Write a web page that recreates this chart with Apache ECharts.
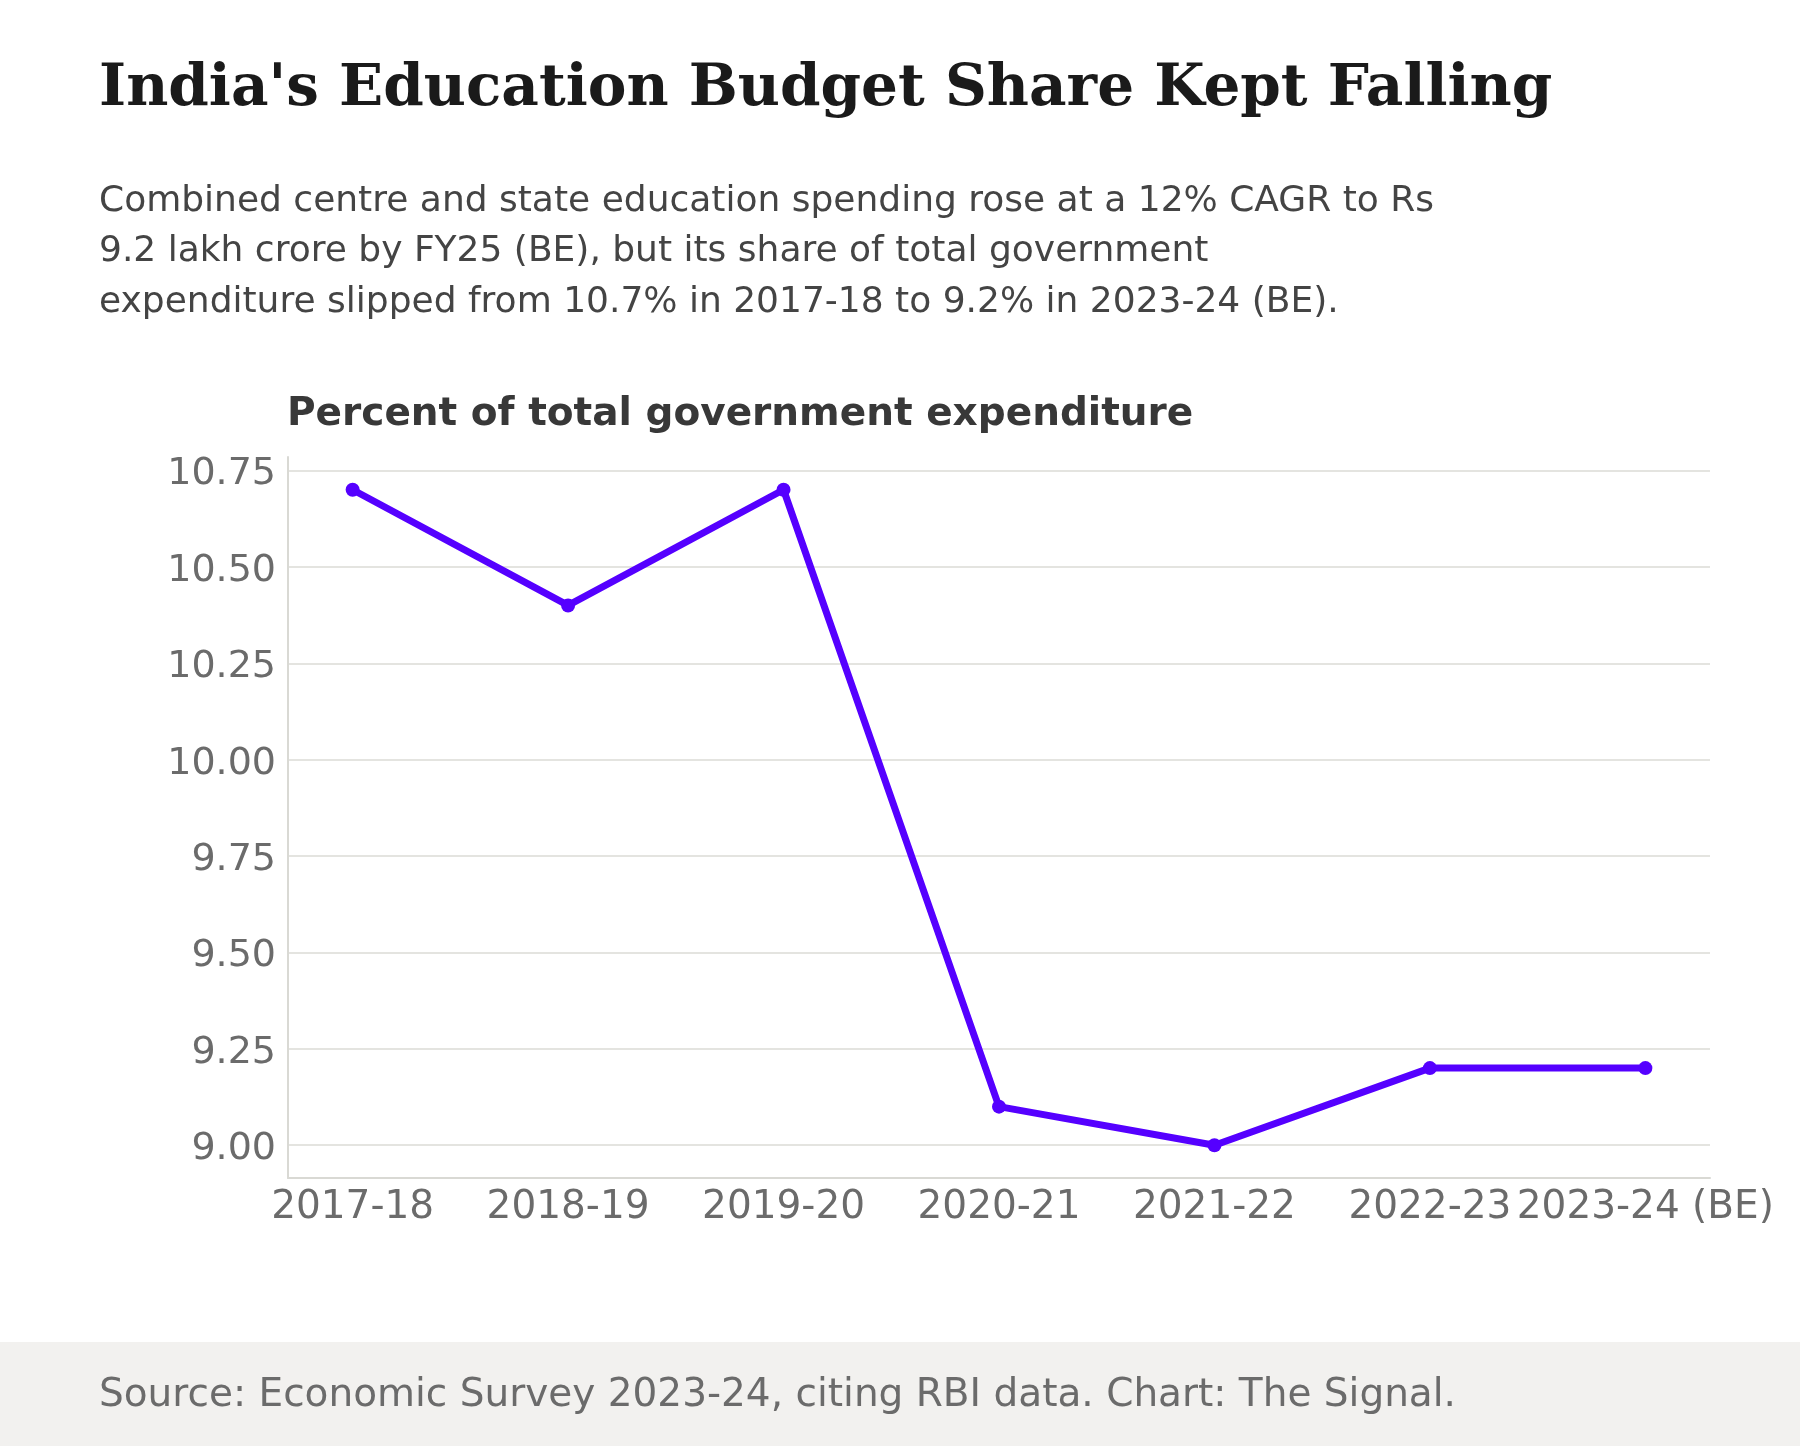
<!DOCTYPE html>
<html>
<head>
<meta charset="utf-8">
<title>India's Education Budget Share Kept Falling</title>
<script src="https://cdn.jsdelivr.net/npm/echarts@6/dist/echarts.min.js"></script>
<style>
  html, body { margin: 0; padding: 0; background: #fff; }
  #chart { width: 1800px; height: 1446px; }
</style>
</head>
<body>
<div id="chart"></div>
<script>
// fiscal years on the x axis
const years = ['2017-18', '2018-19', '2019-20', '2020-21', '2021-22', '2022-23', '2023-24 (BE)']
// education spend, % of total government expenditure
const sharePct = [10.7, 10.4, 10.7, 9.1, 9.0, 9.2, 9.2]
// y tick labels
const yTicks = [9.0, 9.25, 9.5, 9.75, 10.0, 10.25, 10.5, 10.75]
const xTicks = years.map((y, i) => i)

const lineColor = '#5500ff'
const axisGrey = '#d9d9d4'
const labelGrey = '#6b6b6b'

const chart = echarts.init(document.getElementById('chart'), null, { renderer: 'canvas' })

chart.setOption({
  backgroundColor: '#ffffff',
  animation: false,
  textStyle: { fontFamily: 'DejaVu Sans' },
  graphic: [
    {
      type: 'rect',
      left: 0,
      top: 1342,
      shape: { width: 1800, height: 104 },
      style: { fill: '#f2f1ef' },
      silent: true
    },
    {
      type: 'text',
      left: 99,
      top: 61,
      style: {
        text: "India's Education Budget Share Kept Falling",
        font: 'bold 58px "DejaVu Serif"',
        fill: '#1a1a1a'
      }
    },
    {
      type: 'text',
      left: 99,
      top: 176,
      style: {
        text: 'Combined centre and state education spending rose at a 12% CAGR to Rs\n9.2 lakh crore by FY25 (BE), but its share of total government\nexpenditure slipped from 10.7% in 2017-18 to 9.2% in 2023-24 (BE).',
        font: '36px "DejaVu Sans"',
        lineHeight: 50.5,
        fill: '#444444'
      }
    },
    {
      type: 'text',
      left: 287,
      top: 395,
      style: {
        text: 'Percent of total government expenditure',
        font: 'bold 39px "DejaVu Sans"',
        fill: '#383838'
      }
    },
    {
      type: 'text',
      left: 99,
      top: 1376,
      style: {
        text: 'Source: Economic Survey 2023-24, citing RBI data. Chart: The Signal.',
        font: '39px "DejaVu Sans"',
        fill: '#6b6b6b'
      }
    }
  ],
  grid: {
    left: 288,
    right: 90,
    top: 457,
    bottom: 268,
    containLabel: false
  },
  xAxis: {
    type: 'value',
    min: -0.3,
    max: 6.3,
    axisLine: { show: true, onZero: false, lineStyle: { color: axisGrey, width: 2 } },
    axisTick: { show: false, customValues: xTicks },
    splitLine: { show: false },
    axisLabel: {
      customValues: xTicks,
      formatter: v => years[v],
      color: labelGrey,
      fontSize: 39,
      margin: 10
    }
  },
  yAxis: {
    type: 'value',
    min: 8.915,
    max: 10.785,
    axisLine: { show: true, onZero: false, lineStyle: { color: axisGrey, width: 2 } },
    axisTick: { show: false, customValues: yTicks },
    splitLine: { show: true, lineStyle: { color: '#e4e4e0', width: 2 } },
    axisLabel: {
      customValues: yTicks,
      formatter: v => '{t|' + v.toFixed(2) + '}',
      margin: 12,
      rich: {
        t: { color: labelGrey, fontSize: 38, padding: [8, 0, 0, 0] }
      }
    }
  },
  series: [
    {
      type: 'line',
      data: years.map((y, i) => [i, sharePct[i]]),
      symbol: 'circle',
      symbolSize: 14,
      lineStyle: { color: lineColor, width: 7 },
      itemStyle: { color: lineColor },
      z: 3
    }
  ]
})
</script>
</body>
</html>
